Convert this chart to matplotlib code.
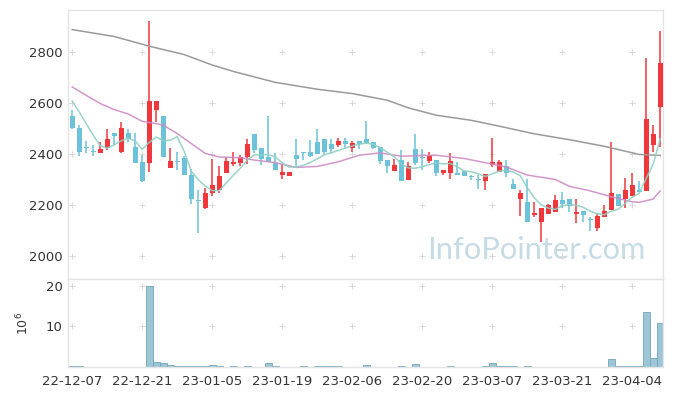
import numpy as np
import pandas as pd
import matplotlib
matplotlib.use('Agg')
import matplotlib.pyplot as plt

plt.rcParams.update({
    'font.family': 'DejaVu Sans',
    'font.size': 9,
})

# ---- data ----
tick_labels = ['22-12-07', '22-12-21', '23-01-05', '23-01-19', '23-02-06',
               '23-02-20', '23-03-07', '23-03-21', '23-04-04']

opens = [2549, 2503, 2428, 2410, 2403, 2425, 2482, 2407, 2482, 2427,
         2370, 2366, 2574, 2549, 2346, 2372, 2384, 2318, 2222, 2189,
         2246, 2259, 2328, 2362, 2367, 2389, 2478, 2425, 2390, 2367,
         2318, 2315, 2396, 2406, 2408, 2447, 2459, 2439, 2435, 2451,
         2425, 2451, 2459, 2446, 2429, 2377, 2335, 2377, 2299, 2420,
         2390, 2373, 2377, 2327, 2327, 2328, 2333, 2313, 2302, 2295,
         2357, 2331, 2353, 2281, 2226, 2212, 2161, 2132, 2167, 2174,
         2220, 2224, 2167, 2176, 2145, 2109, 2154, 2180, 2243, 2225,
         2236, 2259, 2256, 2435, 2586]
highs = [2575, 2514, 2451, 2438, 2448, 2497, 2482, 2527, 2498, 2485,
         2396, 2922, 2607, 2549, 2426, 2408, 2392, 2340, 2261, 2269,
         2383, 2353, 2388, 2407, 2396, 2461, 2478, 2425, 2549, 2405,
         2363, 2329, 2459, 2406, 2457, 2497, 2459, 2461, 2465, 2465,
         2451, 2451, 2529, 2446, 2429, 2377, 2383, 2418, 2370, 2481,
         2422, 2408, 2377, 2337, 2403, 2370, 2333, 2318, 2318, 2321,
         2465, 2377, 2377, 2301, 2261, 2302, 2211, 2189, 2206, 2238,
         2252, 2224, 2224, 2176, 2152, 2167, 2200, 2447, 2243, 2305,
         2328, 2294, 2779, 2513, 2882]
lows = [2500, 2393, 2403, 2393, 2403, 2417, 2435, 2405, 2448, 2367,
        2291, 2331, 2527, 2389, 2346, 2336, 2318, 2203, 2089, 2183,
        2237, 2246, 2328, 2352, 2353, 2363, 2405, 2357, 2370, 2339,
        2301, 2315, 2353, 2377, 2390, 2400, 2396, 2403, 2429, 2426,
        2407, 2422, 2439, 2422, 2363, 2328, 2335, 2295, 2299, 2357,
        2337, 2366, 2314, 2318, 2301, 2318, 2315, 2298, 2265, 2259,
        2348, 2331, 2309, 2263, 2157, 2135, 2154, 2056, 2167, 2174,
        2189, 2174, 2128, 2135, 2098, 2098, 2154, 2180, 2197, 2187,
        2236, 2252, 2256, 2409, 2429]
closes = [2501, 2409, 2424, 2407, 2422, 2459, 2472, 2502, 2459, 2367,
          2295, 2608, 2607, 2389, 2373, 2368, 2318, 2224, 2218, 2247,
          2278, 2316, 2373, 2370, 2387, 2439, 2416, 2380, 2370, 2339,
          2329, 2329, 2382, 2404, 2392, 2400, 2409, 2420, 2452, 2439,
          2442, 2441, 2444, 2426, 2374, 2353, 2357, 2295, 2353, 2366,
          2385, 2396, 2327, 2337, 2373, 2318, 2315, 2311, 2298, 2321,
          2369, 2369, 2328, 2263, 2249, 2135, 2170, 2189, 2200, 2222,
          2204, 2197, 2174, 2161, 2143, 2157, 2176, 2246, 2197, 2259,
          2278, 2252, 2537, 2478, 2758]

# volume in millions of shares
volume = [0.3, 0.3, 0.1, 0.1, 0.1, 0.1, 0.1, 0.1, 0.1, 0.1,
          0.1, 20.0, 1.2, 1.0, 0.6, 0.3, 0.3, 0.3, 0.3, 0.3,
          0.55, 0.3, 0.1, 0.3, 0.1, 0.3, 0.1, 0.1, 1.0, 0.3,
          0.1, 0.1, 0.1, 0.3, 0.1, 0.3, 0.3, 0.3, 0.3, 0.1,
          0.1, 0.1, 0.55, 0.1, 0.1, 0.1, 0.1, 0.3, 0.1, 0.75,
          0.1, 0.1, 0.1, 0.1, 0.3, 0.1, 0.1, 0.1, 0.1, 0.3,
          1.0, 0.3, 0.3, 0.3, 0.1, 0.3, 0.1, 0.1, 0.1, 0.1,
          0.1, 0.1, 0.1, 0.1, 0.1, 0.1, 0.1, 2.0, 0.3, 0.3,
          0.3, 0.3, 13.5, 2.3, 10.9]

# first four 5-day averages depend on earlier sessions
ma5_head = [2608, 2566, 2520, 2475]

# 20-day and long moving averages, read at selected sessions
ma20_idx = [0, 2, 4, 6, 8, 10, 12, 13, 15, 17, 19, 21, 24, 26, 29, 32, 35,
            38, 41, 44, 47, 52, 56, 60, 62, 65, 69, 71, 74, 77, 80, 81, 83, 84]
ma20_val = [2664, 2631, 2599, 2575, 2558, 2529, 2520, 2514, 2481, 2442, 2403,
            2389, 2386, 2377, 2367, 2348, 2352, 2370, 2396, 2405, 2392, 2396,
            2383, 2361, 2350, 2318, 2301, 2274, 2256, 2233, 2213, 2211, 2224,
            2256]
malong_idx = [0, 6, 11, 16, 20, 23, 29, 35, 40, 45, 48, 52, 57, 61, 66, 71,
              76, 81, 84]
malong_val = [2889, 2862, 2824, 2791, 2750, 2725, 2682, 2655, 2638, 2612, 2582,
              2553, 2533, 2510, 2480, 2457, 2431, 2399, 2395]

C_UP = '#f0373c'
C_DOWN = '#6cc2d8'
C_MA5 = '#8fd0c4'
C_MA20 = '#cf8cc6'
C_LONG = '#9a9a9a'
C_VOL = '#9cc5d5'
C_VOL_EDGE = '#72a6bb'
C_FRAME = '#e4e4e4'
C_GRID = '#d8d8d8'

o = np.array(opens, float)
c = np.array(closes, float)
h = np.array(highs, float)
l = np.array(lows, float)
n = len(o)
x = np.arange(n)

ma5 = pd.Series(c).rolling(5).mean().to_numpy()
ma5[:4] = ma5_head

fig = plt.figure(figsize=(6.73, 3.96), dpi=100)
ax = fig.add_axes([68 / 673, 1 - 279 / 396, 595 / 673, 269 / 396])
axv = fig.add_axes([68 / 673, 1 - 367 / 396, 595 / 673, 88 / 396], sharex=ax)

# watermark
ax.text(0.603, 0.108, 'InfoPointer.com', transform=ax.transAxes, fontsize=22.2,
        color='#c7dbe5', ha='left', va='center', family='Lato',
        zorder=0)

# candles
up = c >= o
cols = np.where(up, C_UP, C_DOWN)
ax.vlines(x, l, h, colors=cols, linewidth=1.1, zorder=2)
body_bottom = np.minimum(o, c)
body_h = np.maximum(np.abs(c - o), 4)
ax.bar(x, body_h, bottom=body_bottom, width=0.72, color=cols,
       edgecolor='none', zorder=3)

# moving averages
ax.plot(malong_idx, malong_val, color=C_LONG, lw=1.1, zorder=4)
ax.plot(ma20_idx, ma20_val, color=C_MA20, lw=1.1, alpha=0.9, zorder=4)
ax.plot(x, ma5, color=C_MA5, lw=1.1, alpha=0.9, zorder=4)

ax.set_ylim(1910, 2966)
ax.set_xlim(-0.6, 84.4)
yt = [2000, 2200, 2400, 2600, 2800]
ax.set_yticks(yt)

# volume
axv.bar(x, volume, width=1.0, color=C_VOL, edgecolor=C_VOL_EDGE,
        linewidth=0.6, zorder=2)
axv.set_ylim(0, 21.6)
vt = [10, 20]
axv.set_yticks(vt)
axv.set_ylabel('$10^6$', fontsize=9, color='#333333', labelpad=10)

xt = np.arange(0, 81, 10)
axv.set_xticks(xt)
axv.set_xticklabels(tick_labels)

for a, ticks in [(ax, yt), (axv, vt)]:
    gx, gy = np.meshgrid(xt, ticks)
    a.scatter(gx.ravel(), gy.ravel(), marker='+', s=18, color=C_GRID,
              linewidths=0.7, zorder=1)
    for s in a.spines.values():
        s.set_color(C_FRAME)
        s.set_linewidth(1.0)
    a.tick_params(length=0, labelsize=9.5, colors='#333333', pad=4)

ax.tick_params(labelbottom=False)
axv.tick_params(axis='x', pad=6)

fig.savefig('out.png', dpi=100)
